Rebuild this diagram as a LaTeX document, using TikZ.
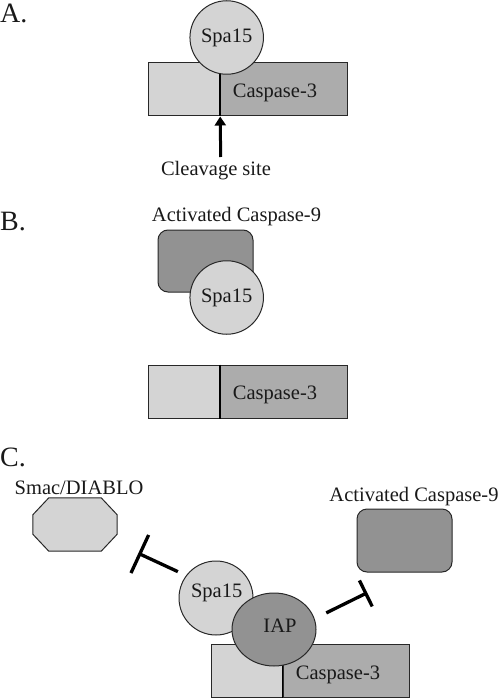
\documentclass[tikz,border=0pt]{standalone}
\usepackage{fontspec}
\setmainfont{Liberation Serif}
\usetikzlibrary{arrows.meta,calc,shapes.geometric}
\definecolor{lightg}{RGB}{212,212,212}
\definecolor{midg}{RGB}{172,172,172}
\definecolor{darkg}{RGB}{146,146,146}
\definecolor{edge}{RGB}{40,40,40}
\definecolor{ink}{RGB}{25,25,25}
\begin{document}
\begin{tikzpicture}[x=1pt,y=-1pt,
  txt/.style={font=\fontsize{20.5}{24}\selectfont, inner sep=0pt, text=ink},
  panel/.style={font=\fontsize{28}{32}\selectfont, inner sep=0pt, anchor=base west, text=ink},
  part/.style={rectangle, draw=edge, line width=1pt, inner sep=0pt, minimum height=53pt},
  spa/.style={circle, draw=edge, fill=lightg, line width=1pt, minimum size=73.5pt, inner sep=0pt, txt},
  casp9/.style={rectangle, rounded corners=10pt, draw=edge, fill=darkg, line width=1pt, minimum width=95pt, minimum height=62pt, inner sep=0pt},
  divider/.style={line width=1.6pt, draw=black},
  inhib/.style={line width=3.3pt, draw=black, -{Bar[width=#1]}}
]
\useasboundingbox (0,0) rectangle (500,698);

% ---------- Panel A ----------
\node[panel] (la) at (0,23) {A.};
\node[part, fill=lightg, minimum width=72.7pt] (a3l) at (184.35,89.5) {};
\node[part, fill=midg, minimum width=126.3pt] (a3r) at (283.85,89.5) {};
\draw[divider] (a3r.north west) -- (a3r.south west);
\node[txt] (a3t) at (275,93) {Caspase-3};
\node[spa] (aspa) at (226.7,37.5) {Spa15};
\coordinate (acut) at (220.7,157);
\draw[line width=3pt, -{Triangle[width=11pt,length=9pt]}] (acut) -- (a3r.south west);
\node[txt] (cleav) at (216,171) {Cleavage site};

% ---------- Panel B ----------
\node[panel] (lb) at (0,230) {B.};
\node[txt] (b9t) at (236.5,217) {Activated Caspase-9};
\node[casp9] (b9) at (205.5,261) {};
\node[spa] (bspa) at (226.7,297.5) {Spa15};
\node[part, fill=lightg, minimum width=72.7pt] (b3l) at (184.35,391.5) {};
\node[part, fill=midg, minimum width=126.3pt] (b3r) at (283.85,391.5) {};
\draw[divider] (b3r.north west) -- (b3r.south west);
\node[txt] (b3t) at (275,395) {Caspase-3};

% ---------- Panel C ----------
\node[panel] (lc) at (0,466) {C.};
\node[txt] (smact) at (79,488) {Smac/DIABLO};
\node[minimum width=84pt, minimum height=53pt, inner sep=0pt] (smac) at (75,524.5) {};
\filldraw[draw=edge, fill=lightg, line width=1pt]
  ($(smac.north west)+(16,0)$) -- ($(smac.north east)+(-16,0)$)
  -- ($(smac.north east)+(0,17)$) -- ($(smac.south east)+(0,-17)$)
  -- ($(smac.south east)+(-16,0)$) -- ($(smac.south west)+(16,0)$)
  -- ($(smac.south west)+(0,-17)$) -- ($(smac.north west)+(0,17)$) -- cycle;
\node[txt] (c9t) at (414,497) {Activated Caspase-9};
\node[casp9, minimum height=63pt] (c9) at (404.5,540.5) {};
\node[part, fill=lightg, minimum width=72pt] (c3l) at (247,670.5) {};
\node[part, fill=midg, minimum width=126pt] (c3r) at (346,670.5) {};
\draw[divider] (c3r.north west) -- (c3r.south west);
\node[txt] (c3t) at (338,675) {Caspase-3};
\node[spa, minimum size=74pt] (cspa) at (216,598) {};
\node[txt] (cspat) at (216.7,593.3) {Spa15};
\node[ellipse, draw=edge, fill=darkg, line width=1pt, minimum width=84pt, minimum height=73pt, inner sep=0pt] (iap) at (274,629.5) {};
\node[txt] (iapt) at (280,626) {IAP};
\coordinate (smacbar) at (138.3,553.3);
\coordinate (c9bar) at (367.3,592.7);
\draw[inhib=42pt] ($(cspa.143)!9pt!(smacbar)$) -- (smacbar);
\draw[inhib=29pt] ($(iap.15)!13pt!(c9bar)$) -- (c9bar);
\end{tikzpicture}
\end{document}
